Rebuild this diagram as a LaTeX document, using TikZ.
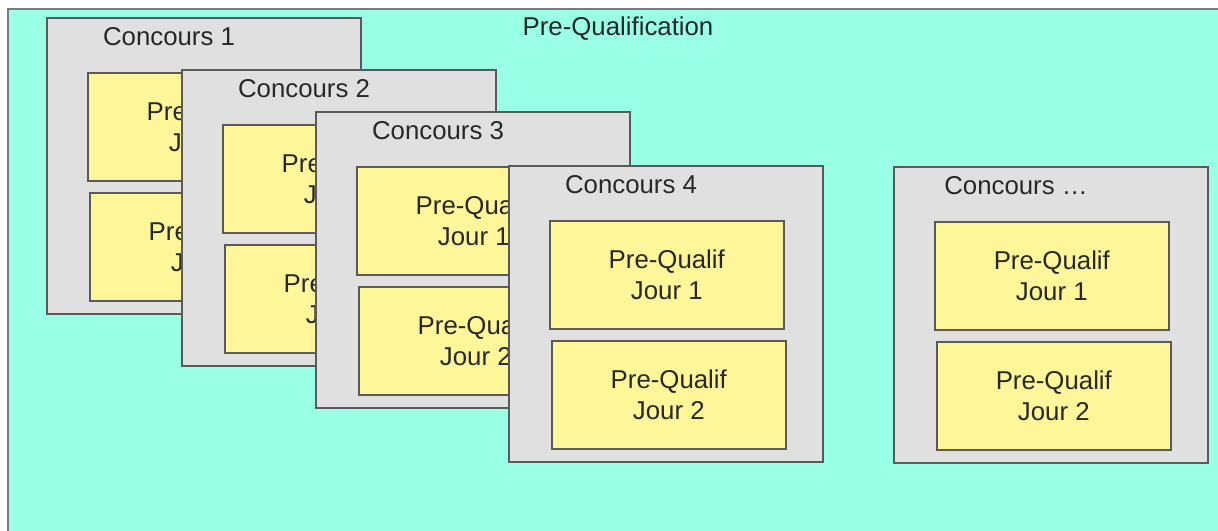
\documentclass[tikz,border=0pt]{standalone}
\usepackage{fontspec}
\setmainfont{Liberation Sans}
\definecolor{aquabg}{RGB}{153,255,229}
\definecolor{boxgray}{RGB}{224,224,224}
\definecolor{qyellow}{RGB}{255,245,153}
\definecolor{edgegray}{RGB}{90,90,90}
\definecolor{txtgray}{RGB}{40,40,40}
\tikzset{
  outerbox/.style={draw=edgegray!80, line width=1.2pt, fill=aquabg},
  concbox/.style={draw=edgegray, line width=0.8pt, fill=boxgray, anchor=north west,
    minimum width=157pt, minimum height=148pt, inner sep=0pt},
  jourbox/.style={draw=edgegray, line width=0.8pt, fill=qyellow, anchor=north west,
    minimum width=117pt, minimum height=54pt, inner sep=0pt, align=center,
    font=\fontsize{12.9}{15.5}\selectfont, text=txtgray},
  lbl/.style={font=\fontsize{12.9}{15.5}\selectfont, text=txtgray, inner sep=0pt}
}
\newcommand\drawconcours[4]{%
  \node[concbox] (#1) at (#2,#3) {};
  \node[lbl] (#1t) at (#2+123,#3+20) {#4};
  \node[jourbox] (#1j1) at (#2+41,#3+55) {Pre-Qualif\\Jour 1};
  \node[jourbox] (#1j2) at (#2+43,#3+175) {Pre-Qualif\\Jour 2};
}
\begin{document}
\begin{tikzpicture}[x=0.5pt,y=-0.5pt]
\useasboundingbox (0,0) rectangle (1218,530);
\draw[outerbox] (8,9) rectangle (1240,560);
\node[lbl] (pq) at (618,28.5) {Pre-Qualification};
\drawconcours{ca}{46}{17}{Concours 1}
\drawconcours{cb}{181}{69}{Concours 2}
\drawconcours{cc}{315}{111}{Concours 3}
\drawconcours{cd}{508}{165}{Concours 4}
\drawconcours{ce}{893}{166}{Concours …}
\end{tikzpicture}
\end{document}
